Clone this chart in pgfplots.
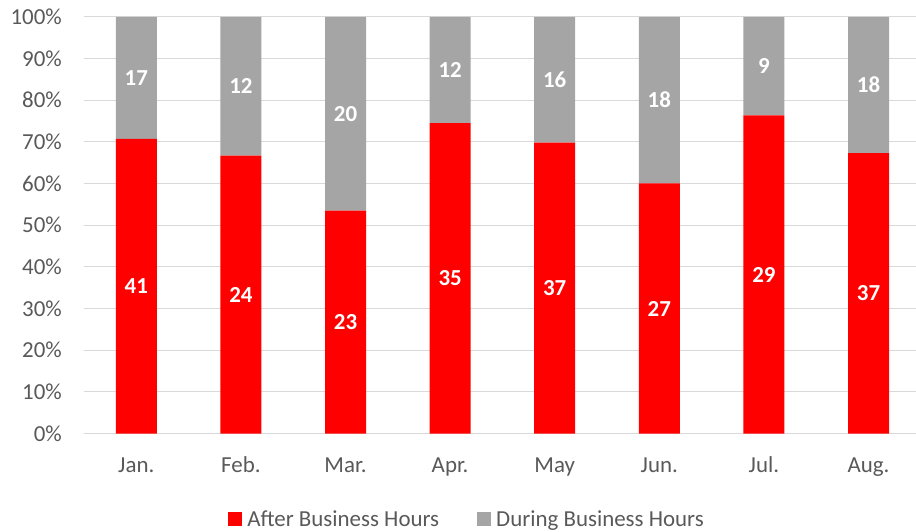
\documentclass[border=0pt]{standalone}
\usepackage{fontspec}
\setmainfont{Carlito}
\usepackage{pgfplots}
\usepackage{pgfplotstable}
\pgfplotsset{compat=1.18}
\definecolor{red1}{HTML}{FF0000}
\definecolor{gray1}{HTML}{A5A5A5}
\definecolor{grid1}{HTML}{D9D9D9}
\definecolor{txt}{HTML}{595959}

\pgfplotstableread{
m a b
0 41 17
1 24 12
2 23 20
3 35 12
4 37 16
5 27 18
6 29 9
7 37 18
}\data

\begin{document}
\begin{tikzpicture}
\useasboundingbox (0,0) rectangle (916bp,532bp);
\pgfplotsset{common/.style={at={(84bp,98.5bp)}, anchor=south west, scale only axis,
  width=831.6bp, height=416.7bp, xmin=-0.5, xmax=7.45, ymin=0, ymax=100}}
\begin{axis}[common, ybar stacked, bar width=41bp,
  axis line style={draw=none}, tick style={draw=none},
  ymajorgrids, grid style={color=grid1, line width=1bp},
  ytick={0,10,...,100},
  /pgf/number format/assume math mode=true,
  yticklabel={\pgfmathprintnumber{\tick}\%},
  yticklabel style={anchor=east, inner sep=0pt, xshift=-22bp, text=txt, font=\fontsize{23}{28}\selectfont},
  xtick={0,...,7},
  xticklabels={Jan.,Feb.,Mar.,Apr.,May,Jun.,Jul.,Aug.},
  xticklabel style={anchor=base, inner sep=0pt, yshift=-38.5bp, text=txt, font=\fontsize{23}{28}\selectfont},
  legend columns=2,
  legend image code/.code={\fill[#1] (0bp,0bp) rectangle (14bp,14bp);},
  legend style={at={(0.4594,-0.2052)}, anchor=center, draw=none, fill=none,
    font=\fontsize{23}{28}\selectfont, text=txt,
    nodes={inner sep=0pt, anchor=base west},
    /tikz/every odd column/.append style={column sep=5bp},
    /tikz/every even column/.append style={column sep=38bp}},
]
\addplot[fill=red1, draw=none] table[x=m, y expr={100*\thisrow{a}/(\thisrow{a}+\thisrow{b})}] {\data};
\addplot[fill=gray1, draw=none] table[x=m, y expr={100*\thisrow{b}/(\thisrow{a}+\thisrow{b})}] {\data};
\legend{After Business Hours, During Business Hours}
\end{axis}
\begin{axis}[common, hide axis, clip=false]
\addplot[draw=none, mark=none, nodes near coords, point meta=explicit symbolic,
  every node near coord/.style={anchor=center, inner sep=0pt, text=white, font=\fontsize{23}{28}\selectfont\bfseries}]
  table[x=m, y expr={50*\thisrow{a}/(\thisrow{a}+\thisrow{b})}, meta=a] {\data};
\addplot[draw=none, mark=none, nodes near coords, point meta=explicit symbolic,
  every node near coord/.style={anchor=center, inner sep=0pt, text=white, font=\fontsize{23}{28}\selectfont\bfseries}]
  table[x=m, y expr={100*\thisrow{a}/(\thisrow{a}+\thisrow{b})+50*\thisrow{b}/(\thisrow{a}+\thisrow{b})}, meta=b] {\data};
\end{axis}
\end{tikzpicture}
\end{document}
